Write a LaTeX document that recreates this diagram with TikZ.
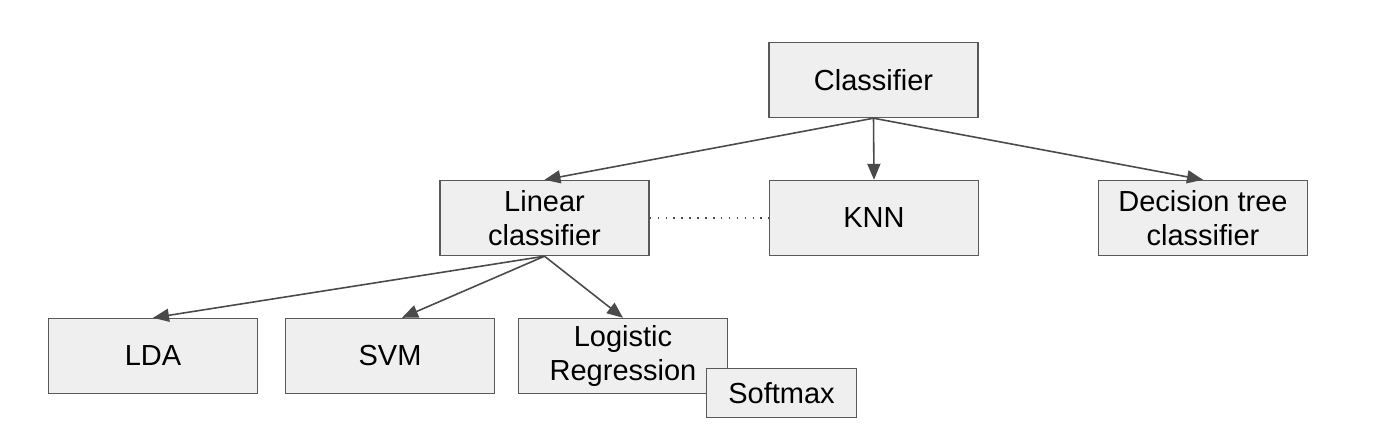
\documentclass[tikz,border=0pt]{standalone}
\usepackage{fontspec}
\setmainfont{Liberation Sans}
\usepackage{xcolor}
\usetikzlibrary{arrows.meta,positioning}

\definecolor{boxfill}{HTML}{EFEFEF}
\definecolor{boxline}{HTML}{595959}
\definecolor{arrline}{HTML}{4A4A4A}

\begin{document}
\begin{tikzpicture}[
  cls/.style={rectangle, draw=boxline, fill=boxfill, line width=0.8pt,
              minimum width=4.18cm, minimum height=1.5cm, inner sep=0pt,
              align=center, font=\fontsize{16.5}{19.5}\selectfont},
  arr/.style={-{Triangle[length=0.32cm,width=0.26cm]}, draw=arrline, fill=arrline, line width=0.9pt},
  dots/.style={draw=arrline, line width=0.9pt, dash pattern=on 0.9pt off 3.6pt}
]
\useasboundingbox (0,0) rectangle (28,-8.6);

\node[cls] (clf)  at (17.47,-1.60) {Classifier};
\node[cls] (lin)  at (10.89,-4.36) {Linear\\classifier};
\node[cls] (knn)  at (17.48,-4.36) {KNN};
\node[cls] (dtc)  at (24.06,-4.36) {Decision tree\\classifier};
\node[cls] (lda)  at (3.06,-7.12)  {LDA};
\node[cls] (svm)  at (7.80,-7.12)  {SVM};
\node[cls] (logr) at (12.46,-7.12) {Logistic\\Regression};
\node[cls, minimum width=3.0cm, minimum height=0.98cm] (smax) at (15.63,-7.86) {Softmax};

% top level
\draw[arr] (clf.south) -- (lin.north);
\draw[arr] (clf.south) -- (knn.north);
\draw[arr] (clf.south) -- (dtc.north);

% linear family
\draw[arr] (lin.south) -- (lda.north);
\draw[arr] (lin.south) -- ([xshift=0.24cm]svm.north);
\draw[arr] (lin.south) -- (logr.north);

\draw[dots] (lin) -- (knn);

\end{tikzpicture}
\end{document}
